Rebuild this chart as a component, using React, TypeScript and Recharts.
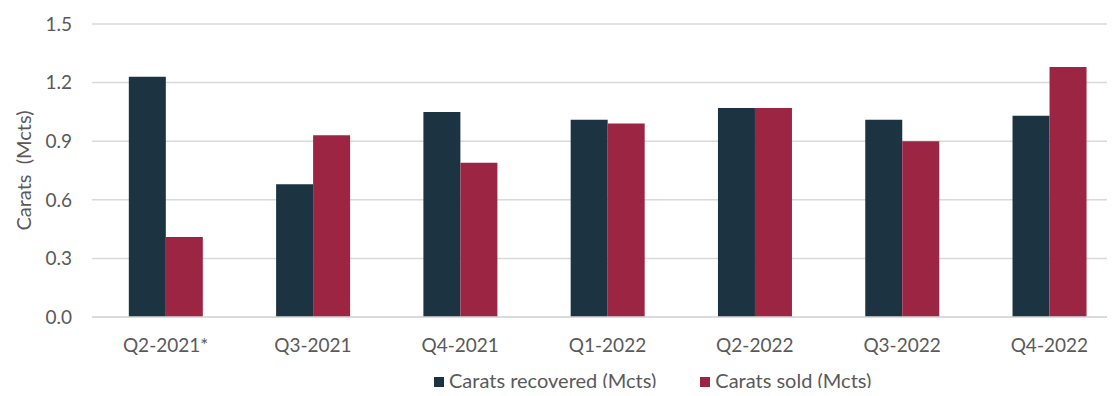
import { BarChart, Bar, XAxis, YAxis, CartesianGrid, Legend } from 'recharts'

const QUARTERS = ['Q2-2021*', 'Q3-2021', 'Q4-2021', 'Q1-2022', 'Q2-2022', 'Q3-2022', 'Q4-2022']
const RECOVERED = [1.23, 0.68, 1.05, 1.01, 1.07, 1.01, 1.03]
const SOLD = [0.41, 0.93, 0.79, 0.99, 1.07, 0.9, 1.28]
const Y_TICKS = [0, 0.3, 0.6, 0.9, 1.2, 1.5]

const NAVY = '#1c3341'
const CRIMSON = '#9b2542'
const TEXT = '#595959'
const FONT = 'Lato, "Open Sans", sans-serif'

const data = QUARTERS.map((q, i) => ({ quarter: q, recovered: RECOVERED[i], sold: SOLD[i] }))

const series = [
  { key: 'recovered', label: 'Carats recovered (Mcts)', color: NAVY },
  { key: 'sold', label: 'Carats sold (Mcts)', color: CRIMSON },
]

// legend sits left-of-centre under the plot
function LegendRow() {
  return (
    <div style={{ display: 'flex', gap: 44, fontFamily: FONT, fontSize: 20, color: TEXT, paddingLeft: 434, lineHeight: '20px' }}>
      {series.map(s => (
        <div key={s.key} style={{ display: 'flex', alignItems: 'center', gap: 5 }}>
          <span style={{ width: 10, height: 10, background: s.color, display: 'inline-block', position: 'relative', top: 2 }} />
          <span>{s.label}</span>
        </div>
      ))}
    </div>
  )
}

export default function App() {
  return (
    <div style={{ margin: -8, width: 1115, height: 396, overflow: 'hidden', background: '#fff' }}>
      <BarChart
        width={1123}
        height={396}
        data={data}
        margin={{ top: 24, right: 0, bottom: 0, left: 0 }}
        barCategoryGap="25%"
        barGap={0}
      >
        <CartesianGrid vertical={false} stroke="#d9d9d9" strokeWidth={1.5} />
        <XAxis
          dataKey="quarter"
          axisLine={{ stroke: '#d9d9d9', strokeWidth: 1.5 }}
          tickLine={false}
          tickMargin={16}
          height={57}
          tick={{ fill: TEXT, fontSize: 19, fontFamily: FONT }}
          interval={0}
        />
        <YAxis
          domain={[0, 1.5]}
          ticks={Y_TICKS}
          width={92}
          axisLine={false}
          tickLine={false}
          tickMargin={14}
          tickFormatter={(v: number) => v.toFixed(1)}
          tick={{ fill: TEXT, fontSize: 19, fontFamily: FONT }}
          label={{
            value: 'Carats\u00a0\u00a0(Mcts)',
            angle: -90,
            position: 'insideLeft',
            offset: 24,
            style: { textAnchor: 'middle', fill: TEXT, fontSize: 20, fontFamily: FONT },
          }}
        />
        <Legend
          verticalAlign="bottom"
          height={22}
          wrapperStyle={{ top: 370, bottom: 'auto', left: 0 }}
          content={<LegendRow />}
        />
        {series.map(s => (
          <Bar key={s.key} dataKey={s.key} name={s.label} fill={s.color} isAnimationActive={false} />
        ))}
      </BarChart>
    </div>
  )
}
